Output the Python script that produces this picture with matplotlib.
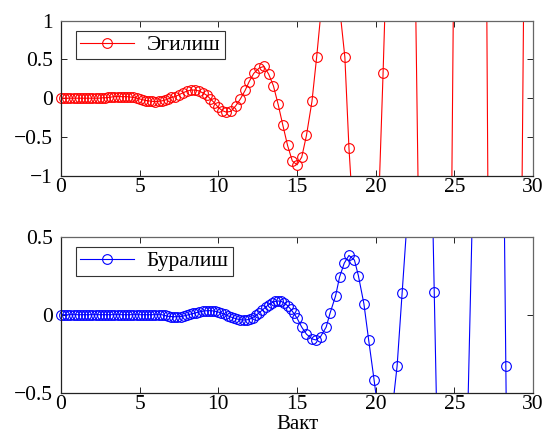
import numpy as np
import matplotlib.pyplot as plt

# --------- данные ---------
red_t = [0.0, 0.2, 0.4, 0.6, 0.8, 1.0, 1.2, 1.4, 1.6, 1.8, 2.0, 2.2, 2.4, 2.6, 2.8,
         3.0, 3.2, 3.4, 3.6, 3.8, 4.0, 4.2, 4.4, 4.6, 4.8, 5.0,
         5.2, 5.4, 5.6, 5.8, 6.0, 6.2, 6.4, 6.6, 6.8,
         7.0, 7.25, 7.5, 7.75, 8.0, 8.25, 8.5, 8.75, 9.0, 9.25,
         9.5, 9.75, 10.0, 10.25, 10.5, 10.8, 11.1, 11.4, 11.7, 11.95,
         12.25, 12.6, 12.9, 13.2, 13.5, 13.8, 14.1, 14.4, 14.7, 15.0,
         15.3, 15.6, 15.95, 16.25, 17.1, 18.04, 18.3, 19.6, 20.47, 21.94,
         24.0, 26.18, 28.03, 30.0]
red_y = [0.0, 0.0, 0.0, 0.0, 0.0, 0.0, 0.0, 0.0, 0.0, 0.0, 0.0, 0.0, 0.0, 0.005, 0.005,
         0.01, 0.015, 0.02, 0.02, 0.02, 0.02, 0.02, 0.015, 0.01, 0.0, -0.01,
         -0.02, -0.03, -0.035, -0.04, -0.045, -0.04, -0.035, -0.025, -0.01,
         0.01, 0.02, 0.045, 0.07, 0.09, 0.105, 0.105, 0.095, 0.07, 0.04,
         -0.01, -0.06, -0.12, -0.16, -0.18, -0.17, -0.1, -0.01, 0.1, 0.21,
         0.32, 0.39, 0.41, 0.31, 0.16, -0.08, -0.35, -0.61, -0.81, -0.86,
         -0.76, -0.48, -0.04, 0.535, 2.34, 0.53, -0.64, -4.93, 0.33, 10.2,
         -20.7, 30.3, -31.0, 15.3]

blue_t = [0.0, 0.2, 0.4, 0.6, 0.8, 1.0, 1.2, 1.4, 1.6, 1.8, 2.0, 2.2, 2.4, 2.6, 2.8,
          3.0, 3.2, 3.4, 3.6, 3.8, 4.0, 4.2, 4.4, 4.6, 4.8, 5.0, 5.2, 5.4, 5.6, 5.8,
          6.0, 6.2, 6.4,
          6.6, 6.8, 7.0, 7.2, 7.4, 7.6, 7.8, 8.0, 8.2, 8.4, 8.6, 8.8, 9.0, 9.2, 9.4,
          9.6, 9.8, 10.0, 10.2, 10.4, 10.6, 10.8, 11.0, 11.2, 11.4, 11.6, 11.8, 12.0,
          12.2, 12.4, 12.6, 12.8, 13.0, 13.2, 13.4, 13.6, 13.8, 14.0, 14.2, 14.4,
          14.6, 14.8, 15.0,
          15.3, 15.6, 15.95, 16.2, 16.5, 16.85, 17.1, 17.45, 17.7, 18.0, 18.3,
          18.65, 18.9, 19.25, 19.55, 19.9, 20.63, 21.36, 21.68, 23.26, 23.72,
          24.8, 27.55, 28.27, 29.8]
blue_y = [0.0, 0.0, 0.0, 0.0, 0.0, 0.0, 0.0, 0.0, 0.0, 0.0, 0.0, 0.0, 0.0, 0.0, 0.0,
          0.0, 0.0, 0.0, 0.0, 0.0, 0.0, 0.0, 0.0, 0.0, 0.0, 0.0, 0.0, 0.0, 0.0, 0.0,
          0.0, 0.0, 0.0,
          -0.005, -0.01, -0.012, -0.013, -0.013, -0.012, -0.008, -0.003, 0.003, 0.008,
          0.013, 0.018, 0.022, 0.025, 0.026, 0.025, 0.022, 0.017, 0.01, 0.002,
          -0.007, -0.015, -0.022, -0.028, -0.032, -0.034, -0.033, -0.028,
          -0.018, -0.004, 0.013, 0.03, 0.048, 0.064, 0.077, 0.085, 0.088, 0.085,
          0.074, 0.058, 0.035, 0.008, -0.022,
          -0.08, -0.125, -0.155, -0.162, -0.14, -0.08, 0.01, 0.12, 0.24, 0.33, 0.38,
          0.35, 0.25, 0.07, -0.16, -0.42, -0.99, -0.33, 0.14, 2.46, 0.147,
          -5.25, 6.83, -0.33, -15.0]

serif = ['Liberation Serif', 'DejaVu Serif']
plt.rcParams['font.family'] = serif
FS = 15.5

fig = plt.figure(figsize=(5.47, 4.34), dpi=100)
ax1 = fig.add_axes([0.1115, 0.5952, 0.863, 0.3571])
ax2 = fig.add_axes([0.1115, 0.0952, 0.863, 0.3594])


def draw(ax, t, y, color, label, ylim, yticks):
    t = np.array(t)
    y = np.array(y)
    ax.plot(t, y, '-', color=color, lw=0.8)
    # маркеры не обрезаются у края, как в MATLAB
    vis = (y >= ylim[0]) & (y <= ylim[1])
    ax.plot(t[vis], y[vis], 'o', mfc='none', mec=color, ms=7, mew=0.8,
            clip_on=False)
    h, = ax.plot([], [], '-o', color=color, lw=0.8, mfc='none', mec=color,
                 ms=7, mew=0.8)
    ax.set_xlim(0, 30)
    ax.set_ylim(*ylim)
    ax.set_xticks([0, 5, 10, 15, 20, 25, 30])
    ax.set_yticks(yticks)
    ax.set_yticklabels([('%g' % v).replace('-', '\u2212') for v in yticks])
    ax.tick_params(direction='in', top=True, right=True, length=4, width=0.6,
                   labelsize=FS)
    ax.tick_params(axis='y', pad=6)
    ax.tick_params(axis='x', pad=2)
    for s in ['left', 'bottom']:
        ax.spines[s].set_color('#222222')
    for s in ['top', 'right']:
        ax.spines[s].set_color('#666666')
    for s in ax.spines.values():
        s.set_linewidth(0.9)
    leg = ax.legend([h], [label], loc='upper left', bbox_to_anchor=(0.031, 0.935),
                    borderaxespad=0, fancybox=False, framealpha=1,
                    edgecolor='#333333', handlelength=2.5, numpoints=1,
                    fontsize=FS, borderpad=0.2, handletextpad=0.6)
    leg.get_frame().set_linewidth(0.8)


draw(ax1, red_t, red_y, '#ff0000', 'Эгилиш', (-1, 1), [-1, -0.5, 0, 0.5, 1])
draw(ax2, blue_t, blue_y, '#0000ff', 'Буралиш', (-0.5, 0.5), [-0.5, 0, 0.5])
fig.text(0.543, 0.0, 'Вакт', fontsize=15, ha='center', va='bottom')

fig.savefig('out.png', dpi=100)
